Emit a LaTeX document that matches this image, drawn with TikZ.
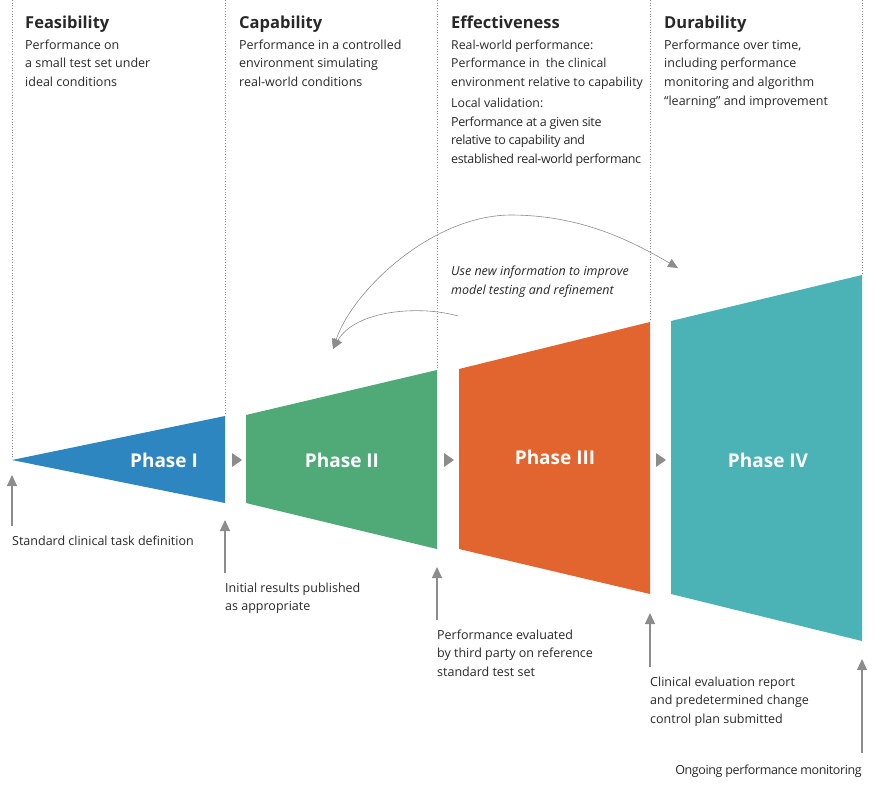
\documentclass[tikz,border=0pt]{standalone}
\usepackage{fontspec}
\setmainfont{Open Sans}
\usetikzlibrary{arrows.meta}
\usetikzlibrary{positioning}
\definecolor{phaseblue}{RGB}{46,134,193}
\definecolor{phasegreen}{RGB}{79,170,119}
\definecolor{phaseorange}{RGB}{226,101,47}
\definecolor{phaseteal}{RGB}{75,178,181}
\definecolor{arrowgray}{RGB}{140,140,140}
\definecolor{guidegray}{RGB}{150,150,150}
\definecolor{inkgray}{RGB}{40,40,40}
\tikzset{
	gap arrow/.pic = {
			\fill[arrowgray] (-5,-7) -- (5,0) -- (-5,7) -- cycle;
		}
	}

\begin{document}
\begin{tikzpicture}
		[x=1pt, y=-1pt,
		> = {Triangle[length=10pt,width=9pt]},
		guide/.style = {draw=guidegray, dotted, line width=0.7pt},
		head/.style = {anchor=north west, inner sep=0pt, text=inkgray, font=\fontsize{16.5}{19}\selectfont\bfseries},
		body/.style = {anchor=north west, inner sep=0pt, align=left, text=inkgray, font=\fontsize{12.5}{18.6}\selectfont},
		phase/.style = {text=white, font=\fontsize{19}{22}\selectfont\bfseries},
		milestone/.style = {anchor=north west, inner sep=0pt, align=left, text=inkgray, font=\fontsize{12.5}{18.4}\selectfont},
		up arrow/.style = {draw=arrowgray, line width=1.2pt, -{Triangle[length=11pt,width=10pt]}, arrowgray},
		loop arrow/.style = {draw=arrowgray, line width=0.6pt, arrowgray}
		]
		\useasboundingbox (0,0) rectangle (878,785);

		% dotted guides
		\draw[guide] (12,0) -- (12,458);
		\draw[guide] (225,0) -- (225,414);
		\draw[guide] (437,0) -- (437,368);
		\draw[guide] (650,0) -- (650,320);
		\draw[guide] (862,0) -- (862,273);

		% headings
		\node[head] (feas) at (25,16) {Feasibility};
		\node[head] (capa) at (239,16) {Capability};
		\node[head] (effe) at (451,16) {Effectiveness};
		\node[head] (dura) at (664,16) {Durability};

		\node[body] (feastext) at (25,39.5) {Performance on\\a small test set under\\ideal conditions};
		\node[body] (capatext) at (239,39.5) {Performance in a controlled\\environment simulating\\real-world conditions};
		\node[body, font=\fontsize{12.3}{18.6}\selectfont] (effetext) at (451,39.5) {Real-world performance:\\Performance in\ \ the clinical\\environment relative to capability\\[3pt]Local validation:};
		\node[body, font=\fontsize{12.5}{18.6}\selectfont\addfontfeatures{LetterSpace=-3}] (localtext) at (451,116.5) {Performance at a given site\\relative to capability and\\established real-world performanc};
		\node[body] (duratext) at (664,39.5) {Performance over time,\\including performance\\monitoring and algorithm\\“learning” and improvement};

		% phases
		\fill[phaseblue] (12,460) -- (225,416) -- (225,503) -- cycle;
		\fill[phasegreen] (246,415) -- (437,370) -- (437,549) -- (246,503) -- cycle;
		\fill[phaseorange] (459,369) -- (650,322) -- (650,594) -- (459,549) -- cycle;
		\fill[phaseteal] (671,321) -- (862,275) -- (862,641) -- (671,594) -- cycle;

		\node[phase] (p1) at (164,460) {Phase I};
		\node[phase] (p2) at (342,460) {Phase II};
		\node[phase] (p3) at (555,457) {Phase III};
		\node[phase] (p4) at (768,460) {Phase IV};

		\pic at (237,460) {gap arrow};
		\pic at (449,460) {gap arrow};
		\pic at (661,460) {gap arrow};

		% feedback loop
		\coordinate (loopin) at (333,349);
		\coordinate (loopout) at (678,268);
		\coordinate (loopstart) at (458,316);
		\draw[loop arrow, <->] (loopin) .. controls (352,292) and (430,216) .. (510,215)
			.. controls (580,215) and (630,240) .. (loopout);
		\draw[loop arrow, ->] (loopstart) .. controls (420,305) and (355,310) .. (loopin);
		\node[body, font=\fontsize{12.5}{18.6}\selectfont\itshape] (note) at (451,266) {Use new information to improve\\model testing and refinement};

		% milestones
		\node[milestone] (m1) at (12,535.5) {Standard clinical task definition};
		\node[milestone] (m2) at (225,582.5) {Initial results published\\as appropriate};
		\node[milestone] (m3) at (437,629.5) {Performance evaluated\\by third party on reference\\standard test set};
		\node[milestone] (m4) at (650,676.5) {Clinical evaluation report\\and predetermined change\\control plan submitted};
		\node[milestone, anchor=north east, font=\fontsize{12.5}{18.4}\selectfont\addfontfeatures{LetterSpace=-3}] (m5) at (862,764.5) {Ongoing performance monitoring};

		\coordinate (t1) at (12,475);
		\coordinate (t2) at (225,520);
		\coordinate (t3) at (437,567);
		\coordinate (t4) at (650,613);
		\coordinate (t5) at (862,659);
		\draw[up arrow] ([yshift=10pt]m1.north west) -- (t1);
		\draw[up arrow] ([yshift=10pt]m2.north west) -- (t2);
		\draw[up arrow] ([yshift=10pt]m3.north west) -- (t3);
		\draw[up arrow] ([yshift=10pt]m4.north west) -- (t4);
		\draw[up arrow] ([yshift=12pt]m5.north east) -- (t5);
	\end{tikzpicture}
\end{document}
